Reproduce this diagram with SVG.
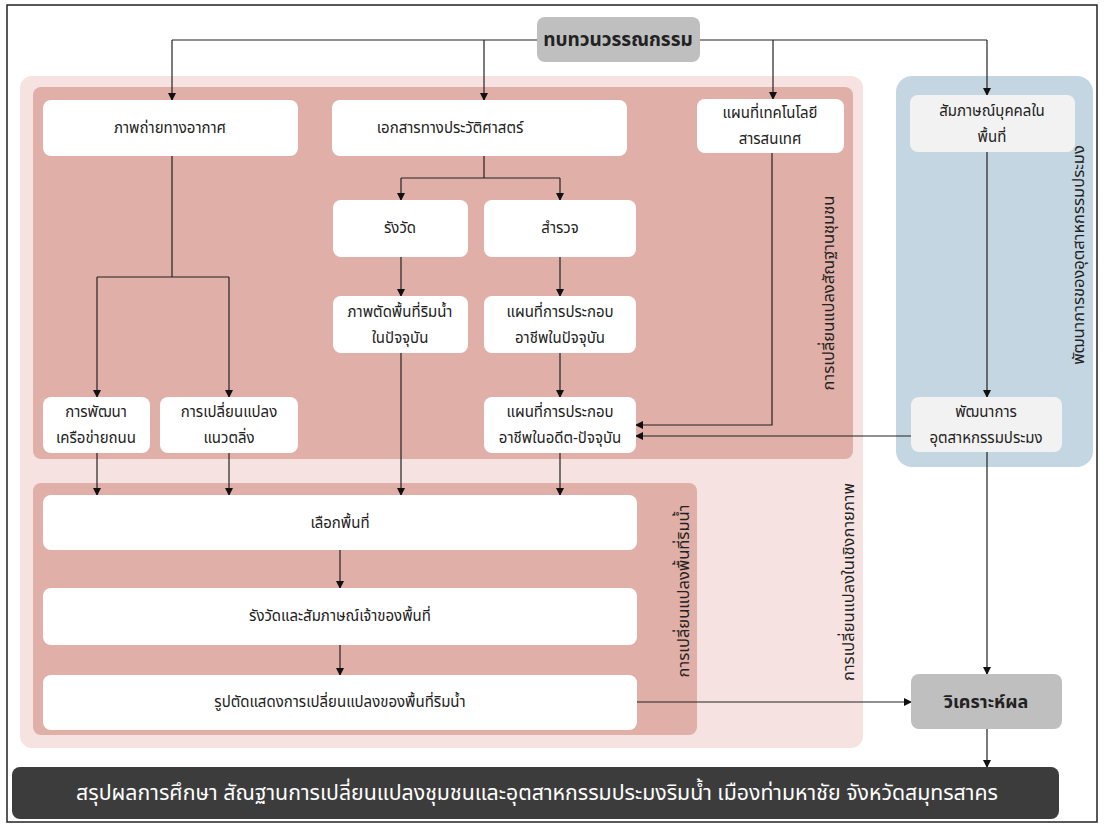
<svg xmlns="http://www.w3.org/2000/svg" width="1105" height="833" viewBox="0 0 1105 833">
<defs>
<marker id="ah" markerWidth="8" markerHeight="8" refX="7" refY="4" orient="auto" markerUnits="userSpaceOnUse">
<path d="M0,0 L8,4 L0,8 z" fill="#111"/>
</marker>
<style>
.t{font-family:"Noto Sans Thai","Noto Sans Thai UI","Tahoma","Noto Sans","DejaVu Sans",sans-serif;font-size:15px;fill:#222;text-anchor:middle;dominant-baseline:central}
.v{font-size:16.5px}
.b{font-weight:bold}
.w{fill:#ffffff;stroke:none}
.lg{fill:#f2f2f2;stroke:none}
.g{fill:#bfbfbf;stroke:none}
.c{fill:none;stroke:#222;stroke-width:1.2}
.ca{fill:none;stroke:#222;stroke-width:1.2;marker-end:url(#ah)}
</style>
</defs>
<rect x="0" y="0" width="1105" height="833" fill="#ffffff"/>
<rect x="7" y="5" width="1090" height="817" fill="none" stroke="#222" stroke-width="1.5"/>

<g id="zones">
<rect x="20" y="76" width="843" height="672" rx="12" fill="#f6e3e1"/>
<rect x="33" y="87" width="820" height="372" rx="8" fill="#e0afa7"/>
<rect x="33" y="483" width="664" height="252" rx="8" fill="#e0afa7"/>
<rect x="896" y="76" width="197" height="391" rx="16" fill="#c3d6e1"/>
<text class="t v" transform="translate(828,293) rotate(-90)">การเปลี่ยนแปลงสัณฐานชุมชน</text>
<text class="t v" transform="translate(1078,255) rotate(-90)">พัฒนาการของอุตสาหกรรมประมง</text>
<text class="t v" transform="translate(683,591) rotate(-90)">การเปลี่ยนแปลงพื้นที่ริมน้ำ</text>
<text class="t v" transform="translate(848,582) rotate(-90)">การเปลี่ยนแปลงในเชิงกายภาพ</text>
</g>

<g id="connectors">
<path class="c" d="M537,40 H172"/>
<path class="ca" d="M172,40 V100"/>
<path class="ca" d="M484,40 V100"/>
<path class="c" d="M700,40 H987"/>
<path class="ca" d="M773,40 V99"/>
<path class="ca" d="M987,40 V95"/>
<path class="c" d="M172,156 V277 M97,277 H229"/>
<path class="ca" d="M97,277 V397"/>
<path class="ca" d="M229,277 V397"/>
<path class="c" d="M484,156 V178 M401,178 H560"/>
<path class="ca" d="M401,178 V200"/>
<path class="ca" d="M560,178 V200"/>
<path class="ca" d="M401,257 V296"/>
<path class="ca" d="M560,257 V296"/>
<path class="ca" d="M560,353 V397"/>
<path class="ca" d="M772,153 V425 H636"/>
<path class="ca" d="M911,436 H636"/>
<path class="ca" d="M987,152 V397"/>
<path class="ca" d="M987,452 V674"/>
<path class="ca" d="M97,453 V495"/>
<path class="ca" d="M229,453 V495"/>
<path class="ca" d="M401,353 V495"/>
<path class="ca" d="M560,453 V495"/>
<path class="ca" d="M340,550 V588"/>
<path class="ca" d="M340,645 V675"/>
<path class="ca" d="M637,702 H911"/>
<path class="ca" d="M987,729 V767"/>
</g>

<g id="n-review">
<rect class="g" x="537" y="17" width="163" height="45" rx="8"/>
<text class="t b" x="618" y="40" style="font-size:19px">ทบทวนวรรณกรรม</text>
</g>
<g id="n-aerial">
<rect class="w" x="43" y="100" width="255" height="56" rx="8"/>
<text class="t" x="170" y="128">ภาพถ่ายทางอากาศ</text>
</g>
<g id="n-historic">
<rect class="w" x="332" y="100" width="295" height="56" rx="8"/>
<text class="t" x="450" y="128">เอกสารทางประวัติศาสตร์</text>
</g>
<g id="n-gis">
<rect class="w" x="697" y="99" width="147" height="54" rx="8"/>
<text class="t" x="770" y="113">แผนที่เทคโนโลยี</text>
<text class="t" x="770" y="139">สารสนเทศ</text>
</g>
<g id="n-interview">
<rect class="lg" x="910" y="95" width="165" height="57" rx="8"/>
<text class="t" x="992" y="111">สัมภาษณ์บุคคลใน</text>
<text class="t" x="992" y="137">พื้นที่</text>
</g>
<g id="n-survey">
<rect class="w" x="333" y="200" width="135" height="57" rx="8"/>
<text class="t" x="400" y="228">รังวัด</text>
</g>
<g id="n-explore">
<rect class="w" x="484" y="200" width="152" height="57" rx="8"/>
<text class="t" x="560" y="228">สำรวจ</text>
</g>
<g id="n-section-now">
<rect class="w" x="333" y="296" width="135" height="57" rx="8"/>
<text class="t" x="400" y="312">ภาพตัดพื้นที่ริมน้ำ</text>
<text class="t" x="400" y="338">ในปัจจุบัน</text>
</g>
<g id="n-occ-now">
<rect class="w" x="484" y="296" width="152" height="57" rx="8"/>
<text class="t" x="560" y="312">แผนที่การประกอบ</text>
<text class="t" x="560" y="338">อาชีพในปัจจุบัน</text>
</g>
<g id="n-occ-past">
<rect class="w" x="484" y="397" width="152" height="56" rx="8"/>
<text class="t" x="560" y="412">แผนที่การประกอบ</text>
<text class="t" x="560" y="438">อาชีพในอดีต-ปัจจุบัน</text>
</g>
<g id="n-road">
<rect class="w" x="43" y="397" width="107" height="56" rx="8"/>
<text class="t" x="96" y="412">การพัฒนา</text>
<text class="t" x="96" y="438">เครือข่ายถนน</text>
</g>
<g id="n-bank">
<rect class="w" x="160" y="397" width="138" height="56" rx="8"/>
<text class="t" x="229" y="412">การเปลี่ยนแปลง</text>
<text class="t" x="229" y="438">แนวตลิ่ง</text>
</g>
<g id="n-fishery">
<rect class="lg" x="911" y="397" width="151" height="55" rx="8"/>
<text class="t" x="986" y="412">พัฒนาการ</text>
<text class="t" x="986" y="438">อุตสาหกรรมประมง</text>
</g>
<g id="n-select">
<rect class="w" x="43" y="495" width="594" height="55" rx="8"/>
<text class="t" x="340" y="523">เลือกพื้นที่</text>
</g>
<g id="n-measure">
<rect class="w" x="43" y="588" width="594" height="57" rx="8"/>
<text class="t" x="340" y="616">รังวัดและสัมภาษณ์เจ้าของพื้นที่</text>
</g>
<g id="n-profile">
<rect class="w" x="43" y="675" width="594" height="55" rx="8"/>
<text class="t" x="340" y="702">รูปตัดแสดงการเปลี่ยนแปลงของพื้นที่ริมน้ำ</text>
</g>
<g id="n-analysis">
<rect class="g" x="911" y="674" width="151" height="55" rx="8"/>
<text class="t b" x="986" y="702" style="font-size:18px">วิเคราะห์ผล</text>
</g>
<g id="n-conclusion">
<rect x="12" y="767" width="1047" height="52" rx="8" fill="#3c3c3c"/>
<text class="t" x="537" y="793" style="font-size:21.3px;fill:#ffffff">สรุปผลการศึกษา สัณฐานการเปลี่ยนแปลงชุมชนและอุตสาหกรรมประมงริมน้ำ เมืองท่ามหาชัย จังหวัดสมุทรสาคร</text>
</g>
</svg>
